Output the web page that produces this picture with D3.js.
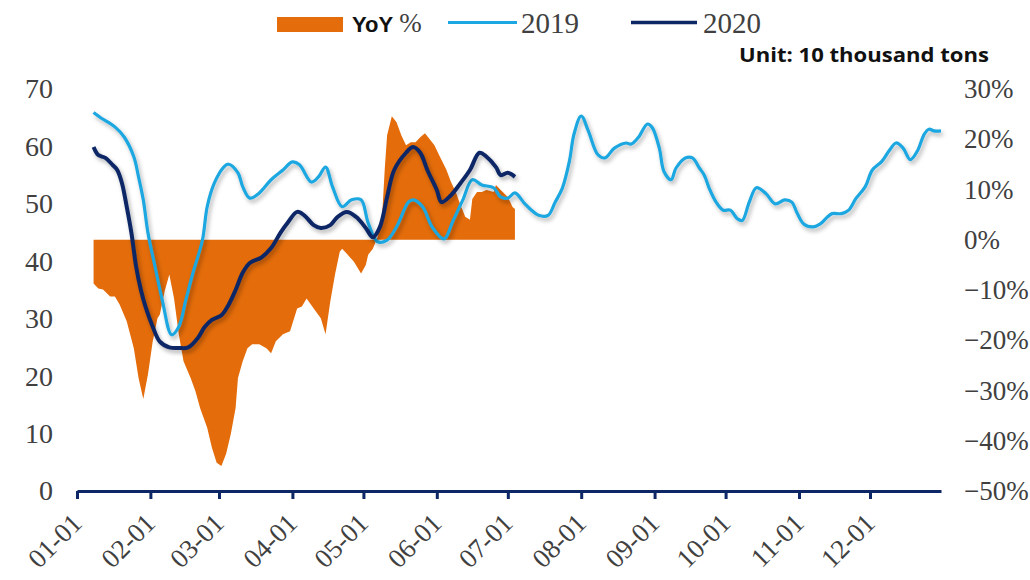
<!DOCTYPE html>
<html>
<head>
<meta charset="utf-8">
<script src="https://cdn.jsdelivr.net/npm/d3@7"></script>
<style>
  body { margin: 0; background: #fff; }
  svg { display: block; }
</style>
</head>
<body>
<script>
// ---- data ----
var dates2019 = ["01-08","01-11","01-17","01-21","01-25","01-27","01-29","01-31","02-03","02-06",
  "02-10","02-13","02-16","02-19","02-23","02-25","02-28","03-03","03-05","03-09",
  "03-11","03-14","03-18","03-23","03-28","04-01","04-04","04-09","04-12","04-15",
  "04-18","04-22","04-26","04-30","05-03","05-07","05-11","05-15","05-20","05-22",
  "05-26","05-30","06-04","06-08","06-12","06-16","06-20","06-25","06-28","07-01",
  "07-04","07-08","07-11","07-14","07-18","07-21","07-24","07-27","07-29","08-01",
  "08-04","08-08","08-11","08-15","08-20","08-22","08-25","08-29","08-31","09-03",
  "09-05","09-08","09-10","09-14","09-17","09-20","09-22","09-24","09-27","09-30",
  "10-03","10-06","10-08","10-11","10-14","10-18","10-22","10-26","10-29","10-31",
  "11-03","11-07","11-10","11-13","11-15","11-19","11-22","11-25","11-29","12-02",
  "12-06","12-09","12-12","12-15","12-18","12-21","12-24","12-26","12-28","12-31"];
var values2019 = [65.9,65.0,63.4,61.6,58.2,54.7,50.7,44.9,39.0,33.3,
  27.2,28.6,33.3,38.0,43.7,49.5,53.6,56.4,56.9,55.4,
  53.0,51.0,51.9,54.2,55.9,57.3,56.8,53.8,54.7,56.4,
  52.9,49.5,50.7,50.7,46.7,43.4,43.7,46.0,50.3,50.7,
  49.5,46.0,43.9,47.2,50.7,54.2,53.3,52.8,51.2,51.0,
  51.9,50.1,48.9,48.0,48.0,50.3,52.7,57.4,62.2,65.3,
  62.7,58.6,58.0,59.7,60.6,60.4,61.5,63.9,63.3,59.7,
  55.6,54.2,56.2,58.0,58.0,56.2,55.0,52.8,50.3,48.9,
  48.9,47.4,47.1,50.3,52.8,51.8,50.0,50.7,50.3,48.6,
  46.5,46.0,46.5,47.7,48.3,48.3,48.9,50.9,53.0,55.9,
  57.4,59.2,60.6,59.7,57.7,59.2,62.2,63.0,62.7,62.7];

var dates2020 = ["01-08","01-10","01-13","01-16","01-18","01-20","01-22","01-24","01-26","01-28",
  "01-30","02-02","02-05","02-09","02-13","02-17","02-21","02-24","02-27","03-02",
  "03-05","03-08","03-11","03-14","03-19","03-23","03-27","03-30","04-03","04-06",
  "04-10","04-13","04-17","04-20","04-24","04-28","05-02","05-05","05-08","05-11",
  "05-14","05-19","05-22","05-25","05-28","06-01","06-03","06-07","06-11","06-15",
  "06-19","06-22","06-26","06-28","07-01","07-04"];
var values2020 = [59.9,58.5,58.0,56.8,55.9,53.6,49.5,44.9,39.0,35.0,
  32.0,28.6,26.0,25.0,24.9,25.0,26.6,28.6,29.8,30.6,
  32.4,35.0,38.0,39.7,40.7,42.3,45.0,46.7,48.6,48.0,
  46.3,45.8,46.3,47.7,48.6,47.7,45.8,44.2,46.0,51.2,
  55.9,58.9,59.9,58.9,55.9,52.4,50.3,51.5,53.6,55.9,
  58.9,58.2,56.4,55.0,55.4,54.7];

var datesYoY = ["01-08","01-10","01-12","01-15","01-17","01-19","01-22","01-25","01-27","01-29",
  "01-31","02-02","02-04","02-05","02-07","02-09","02-11","02-13","02-15","02-18",
  "02-20","02-22","02-25","02-27","02-29","03-02","03-04","03-06","03-08","03-09",
  "03-11","03-13","03-15","03-18","03-21","03-23","03-25","03-28","03-31","04-03",
  "04-05","04-07","04-10","04-13","04-15","04-17","04-19","04-21","04-22","04-24",
  "04-27","04-30","05-02","05-03","05-05","05-07","05-09","05-10","05-11","05-13",
  "05-15","05-17","05-19","05-21","05-23","05-25","05-27","05-29","05-31","06-02",
  "06-05","06-07","06-09","06-11","06-13","06-15","06-16","06-18","06-20","06-22",
  "06-25","06-26","06-28","07-01","07-03","07-04"];
var valuesYoY = [-8.7,-9.7,-9.9,-11.3,-11.3,-12.9,-16.2,-21.6,-27.5,-31.7,
  -26.7,-20.2,-15.6,-14.9,-10.3,-6.9,-11.7,-18.8,-24.2,-27.5,
  -30.1,-33.5,-37.4,-41.4,-44.4,-45.0,-42.6,-38.6,-33.5,-27.5,
  -24.2,-21.6,-20.8,-20.8,-21.6,-22.6,-20.2,-18.8,-18.2,-13.7,
  -13.3,-11.7,-13.7,-15.6,-18.8,-12.3,-6.9,-2.4,-1.8,-2.8,
  -4.4,-6.7,-5.0,-3.0,-1.8,0.6,5.5,14.0,20.8,24.6,
  23.4,20.8,18.8,19.4,19.4,20.4,21.2,20.0,18.8,16.8,
  14.0,11.5,9.5,6.9,4.6,4.0,8.1,9.5,9.5,9.9,
  9.5,10.9,9.9,8.5,6.5,6.1];

var monthTicks = ["01-01","02-01","03-01","04-01","05-01","06-01",
  "07-01","08-01","09-01","10-01","11-01","12-01"];
var leftTicks = [0, 10, 20, 30, 40, 50, 60, 70];
var rightTicks = [-50, -40, -30, -20, -10, 0, 10, 20, 30];

var cOrange = "#e46c0a", cLight = "#1ba7e1", cNavy = "#0d2766";

// all dates are put on one (leap) year so both years share the axis
var parseMD = d3.timeParse("%Y-%m-%d");
function md(s) { return parseMD("2020-" + s); }
function zip(ds, vs) { return ds.map(function(d, i) { return {date: md(d), value: vs[i]}; }); }

var data2019 = zip(dates2019, values2019);
var data2020 = zip(dates2020, values2020);
var dataYoY = zip(datesYoY, valuesYoY);

var width = 1030, height = 580;

var svg = d3.select("body").append("svg")
    .attr("width", width)
    .attr("height", height)
    .style("background", "#fff");

// soft shadow under the lines, like the original
var defs = svg.append("defs");
defs.append("filter").attr("id", "shadow")
    .attr("x", "-10%").attr("y", "-10%").attr("width", "120%").attr("height", "130%")
  .append("feDropShadow")
    .attr("dx", 2).attr("dy", 3).attr("stdDeviation", 2.2)
    .attr("flood-color", "#000").attr("flood-opacity", 0.3);

// scales
var x = d3.scaleTime().domain([md("01-01"), md("12-31")]).range([77, 941]);
var yL = d3.scaleLinear().domain([0, 70]).range([491, 89]);
var yR = d3.scaleLinear().domain([-50, 30]).range([491, 89]);

// YoY area against the 0% line
var area = d3.area()
    .x(function(d) { return x(d.date); })
    .y0(yR(0))
    .y1(function(d) { return yR(d.value); });

svg.append("path")
    .datum(dataYoY)
    .attr("fill", cOrange)
    .attr("d", area);

var line = d3.line()
    .x(function(d) { return x(d.date); })
    .y(function(d) { return yL(d.value); })
    .curve(d3.curveCatmullRom.alpha(0.5));

svg.append("path")
    .datum(data2019)
    .attr("fill", "none")
    .attr("stroke", cLight)
    .attr("stroke-width", 3.2)
    .attr("stroke-linejoin", "round")
    .attr("filter", "url(#shadow)")
    .attr("d", line);

svg.append("path")
    .datum(data2020)
    .attr("fill", "none")
    .attr("stroke", cNavy)
    .attr("stroke-width", 4)
    .attr("stroke-linejoin", "round")
    .attr("filter", "url(#shadow)")
    .attr("d", line);

// x axis
var xAxis = svg.append("g")
    .attr("transform", "translate(0,491)")
    .call(d3.axisBottom(x)
      .tickValues(monthTicks.map(md))
      .tickFormat(d3.timeFormat("%m-%d"))
      .tickSize(8)
      .tickSizeOuter(0));
xAxis.select(".domain").attr("stroke", cNavy).attr("stroke-width", 3);
xAxis.selectAll(".tick line").attr("stroke", cNavy).attr("stroke-width", 3);
xAxis.selectAll(".tick text")
    .attr("font-family", "'Liberation Serif', 'DejaVu Serif', serif")
    .attr("font-size", 27)
    .attr("fill", "#404040")
    .attr("text-anchor", "end")
    .attr("dy", null)
    .attr("y", 0)
    .attr("transform", "translate(6,34) rotate(-45)");

// left axis
var leftAxis = svg.append("g")
    .attr("transform", "translate(53,0)")
    .call(d3.axisLeft(yL).tickValues(leftTicks).tickSize(0).tickPadding(0));
leftAxis.select(".domain").remove();
leftAxis.selectAll("text")
    .attr("font-family", "'Liberation Serif', 'DejaVu Serif', serif")
    .attr("font-size", 28)
    .attr("fill", "#404040");

// right axis
var rightAxis = svg.append("g")
    .attr("transform", "translate(964,0)")
    .call(d3.axisRight(yR).tickValues(rightTicks).tickSize(0).tickPadding(0)
      .tickFormat(function(d) { return d3.format("d")(d) + "%"; }));
rightAxis.select(".domain").remove();
rightAxis.selectAll("text")
    .attr("font-family", "'Liberation Serif', 'DejaVu Serif', serif")
    .attr("font-size", 27)
    .attr("fill", "#404040");

// legend
var legend = svg.append("g");
legend.append("rect")
    .attr("x", 277).attr("y", 17).attr("width", 66).attr("height", 15)
    .attr("fill", cOrange);
var yoyText = legend.append("text").attr("x", 352).attr("y", 32);
yoyText.append("tspan")
    .attr("font-family", "'Liberation Sans', Arial, sans-serif")
    .attr("font-weight", "bold").attr("font-size", 22).attr("fill", "#111")
    .text("YoY");
yoyText.append("tspan")
    .attr("font-family", "'Liberation Serif', serif")
    .attr("font-size", 27).attr("fill", "#404040")
    .attr("dx", 6)
    .text("%");

legend.append("line")
    .attr("x1", 448).attr("x2", 517).attr("y1", 22.5).attr("y2", 22.5)
    .attr("stroke", cLight).attr("stroke-width", 3);
legend.append("text")
    .attr("x", 521).attr("y", 33)
    .attr("font-family", "'Liberation Serif', serif")
    .attr("font-size", 29).attr("fill", "#404040")
    .text("2019");

legend.append("line")
    .attr("x1", 631).attr("x2", 697).attr("y1", 22.5).attr("y2", 22.5)
    .attr("stroke", cNavy).attr("stroke-width", 3.5);
legend.append("text")
    .attr("x", 703).attr("y", 33)
    .attr("font-family", "'Liberation Serif', serif")
    .attr("font-size", 29).attr("fill", "#404040")
    .text("2020");

// unit note
svg.append("text")
    .attr("x", 739).attr("y", 62)
    .attr("font-family", "'Open Sans', 'Noto Sans', sans-serif")
    .attr("font-weight", "bold").attr("font-size", 19).attr("fill", "#111")
    .attr("textLength", 250).attr("lengthAdjust", "spacingAndGlyphs")
    .text("Unit: 10 thousand tons");
</script>
</body>
</html>
